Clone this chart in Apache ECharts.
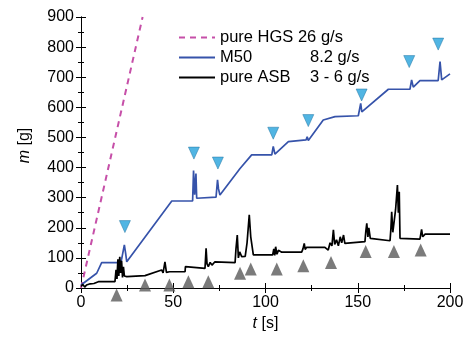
<!DOCTYPE html>
<html>
<head>
<meta charset="utf-8">
<script src="https://cdn.jsdelivr.net/npm/echarts@6/dist/echarts.min.js"></script>
<style>
  html, body { margin: 0; padding: 0; background: #fff; }
  #chart { width: 468px; height: 340px; }
</style>
</head>
<body>
<div id="chart"></div>
<script>
// t [s], m [g]
const hgs = [[0, 0], [33.4, 900]];

const m50 = [
  [0, 10], [8.5, 49], [11.2, 84], [21.5, 84], [22, 95], [23.5, 143], [24.2, 115], [24.8, 87],
  [49.2, 289], [60.5, 289], [61, 390], [61.6, 310], [62.3, 380], [62.7, 298], [73.2, 302],
  [74, 359], [74.5, 330], [75.3, 309], [86.2, 397], [92.5, 442], [103.4, 442], [104.2, 470],
  [105.1, 445], [112.4, 486], [122, 492], [122.6, 502], [123.2, 490], [131.3, 558], [137.7, 569],
  [150.3, 572], [151.6, 613], [152.2, 585], [153, 580], [166.6, 660], [178.3, 660], [179.2, 691],
  [180.1, 667], [183.7, 689], [193.6, 689], [194.6, 752], [195.5, 691], [200, 711]
];

const asb = [
  [0, 5], [1, 12], [2, 3], [3, 10], [4, 6], [5, 14], [6, 9], [7, 15], [8, 18], [9.4, 21],
  [18.4, 21], [19, 60], [19.5, 30], [20, 95], [20.5, 40], [21, 104], [21.5, 50], [22, 90],
  [22.5, 35], [23, 70], [23.5, 40], [24.8, 38], [34.7, 41], [43.7, 60], [44.5, 50], [45.5, 87],
  [46.3, 52], [47.3, 49], [48, 54], [56.4, 54], [56.6, 71], [57.3, 65], [67.2, 65], [67.8, 132],
  [68.3, 80], [69, 71], [70, 85], [71, 76], [72.6, 87], [73.5, 84], [83.5, 84], [84, 130],
  [84.7, 176], [85.3, 100], [86, 120], [87.1, 104], [88, 110], [89, 105], [90, 150], [91.2, 243],
  [92, 170], [93.4, 110], [103.9, 110], [104.5, 130], [105, 108], [105.5, 137], [106.2, 112],
  [107, 125], [108.8, 119], [119.6, 119], [120.3, 130], [121, 148], [121.5, 128], [122.3, 135],
  [132.2, 135], [133, 130], [134, 126], [135, 150], [136, 140], [136.8, 193], [137.5, 145],
  [138.5, 160], [139.5, 140], [140.5, 170], [141.3, 150], [142.3, 176], [143, 148], [144, 154],
  [153.9, 154], [154.4, 190], [154.9, 215], [155.5, 170], [156, 200], [156.8, 165], [157.6, 159],
  [167.5, 157], [168, 200], [168.4, 253], [169, 185], [169.6, 187], [170.5, 260], [171, 300],
  [171.5, 342], [172, 250], [172.5, 320], [172.9, 165], [183.7, 162], [184.2, 180], [184.6, 195],
  [185.2, 170], [185.9, 170], [186.5, 179], [200, 179]
];

// event markers
const blueMarks = [[23.8, 204], [61.2, 448], [74.2, 415], [104.2, 514], [123.2, 556], [152.1, 641], [177.9, 752], [193.6, 810]];
const greyMarks = [[19.3, -23], [34.7, 10], [47.9, 10], [58.2, 21], [69, 21], [86.2, 49], [92, 63],
  [106.1, 63], [120.5, 74], [135.5, 85], [154.3, 121], [169.6, 121], [184.1, 126]];

const legendRates = { 'pure HGS': '26 g/s', 'M50': '8.2 g/s', 'pure ASB': '3 - 6 g/s' };

const FONT = '"Liberation Sans", Arial, sans-serif';
const chart = echarts.init(document.getElementById('chart'), null, { renderer: 'canvas' });

const baseAxis = {
  axisLine: { show: true, lineStyle: { color: '#000', width: 1 } },
  axisTick: { show: true, inside: true, length: 5, lineStyle: { color: '#000' } },
  minorTick: { show: true, splitNumber: 2, length: 3, lineStyle: { color: '#000' } },
  splitLine: { show: false },
  axisLabel: { color: '#000', fontSize: 16, fontFamily: FONT, margin: 7 },
};

const titleStyle = {
  color: '#000', fontSize: 16, fontFamily: FONT,
  rich: { i: { fontStyle: 'italic', fontSize: 16, fontFamily: FONT, color: '#000' } },
};

chart.setOption({
  animation: false,
  grid: { left: 81, right: 18, top: 17, bottom: 52 },
  legend: {
    orient: 'vertical',
    left: 173,
    top: 24,
    itemWidth: 36,
    itemHeight: 14,
    itemGap: 3,
    itemTextGap: 8,
    itemStyle: { opacity: 0 },
    data: ['pure HGS', 'M50', 'pure ASB'],
    textStyle: {
      color: '#000', fontSize: 16.5, fontFamily: FONT,
      rich: {
        n: { width: 90, fontSize: 16.5, fontFamily: FONT, color: '#000' },
        v: { fontSize: 16.5, fontFamily: FONT, color: '#000' },
      },
    },
    formatter: (name) => name === 'pure HGS'
      ? name + ' ' + legendRates[name]
      : '{n|' + name + '}{v|' + legendRates[name] + '}',
  },
  xAxis: [
    Object.assign({}, baseAxis, {
      type: 'value', min: 0, max: 200, interval: 50,
      name: '{i|t} [s]', nameLocation: 'middle', nameGap: 27,
      nameTextStyle: titleStyle,
    }),
    Object.assign({}, baseAxis, {
      type: 'value', min: 0, max: 200, interval: 50, position: 'top',
      axisLabel: { show: false },
    }),
  ],
  yAxis: [
    Object.assign({}, baseAxis, {
      type: 'value', min: 0, max: 900, interval: 100,
      name: '{i|m} [g]', nameLocation: 'middle', nameGap: 48, nameRotate: 90,
      nameTextStyle: Object.assign({ padding: [0, 0, 0, 14] }, titleStyle),
    }),
    Object.assign({}, baseAxis, {
      type: 'value', min: 0, max: 900, interval: 100, position: 'right',
      axisLabel: { show: false },
    }),
  ],
  series: [
    {
      name: 'pure HGS', type: 'line', data: hgs, symbol: 'none',
      lineStyle: { color: '#c64fa8', width: 2, type: [6, 5] }, itemStyle: { color: '#c64fa8' },
    },
    {
      name: 'M50', type: 'line', data: m50, symbol: 'none',
      lineStyle: { color: '#3653aa', width: 1.7 }, itemStyle: { color: '#3653aa' },
    },
    {
      name: 'pure ASB', type: 'line', data: asb, symbol: 'none',
      lineStyle: { color: '#000', width: 1.7 }, itemStyle: { color: '#000' },
    },
    {
      name: 'events M50', type: 'scatter', data: blueMarks, symbol: 'triangle', symbolRotate: 180,
      symbolSize: [11, 12], clip: false,
      itemStyle: { color: '#26a3dc', borderColor: '#1b6f9e', borderWidth: 0.6 },
    },
    {
      name: 'events ASB', type: 'scatter', data: greyMarks, symbol: 'triangle',
      symbolSize: [12, 13], clip: false,
      itemStyle: { color: '#5a5a5a' },
    },
  ],
});
</script>
</body>
</html>
